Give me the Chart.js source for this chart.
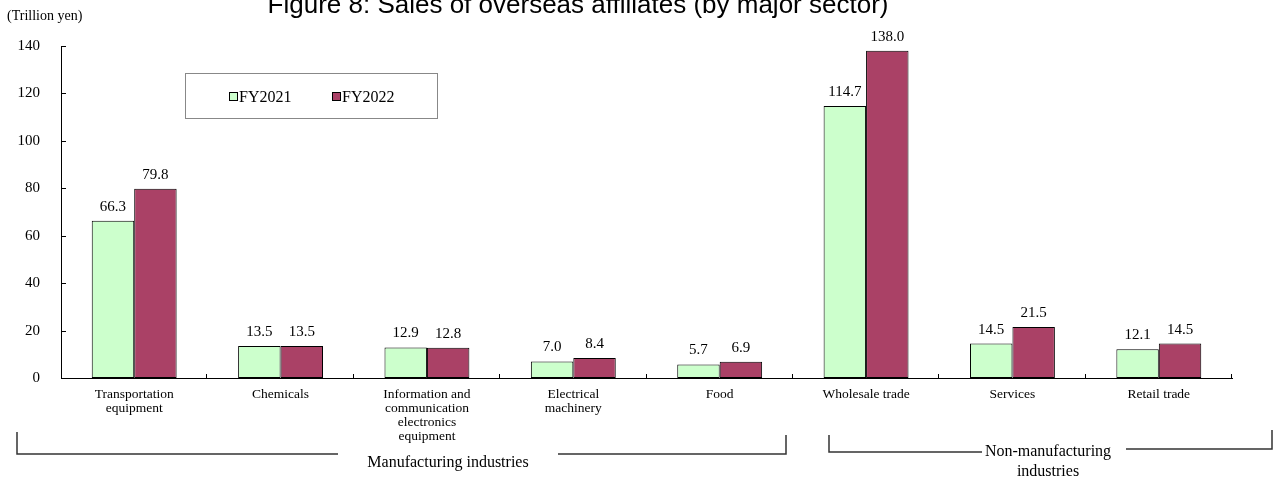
<!DOCTYPE html>
<html>
<head>
<meta charset="utf-8">
<title>Sales of overseas affiliates</title>
<script src="https://cdn.jsdelivr.net/npm/chart.js@4.4.0/dist/chart.umd.min.js"></script>
<style>
    html, body { margin: 0; padding: 0; background: #ffffff; }
    #salesChart { display: block; }
</style>
</head>
<body>
<canvas id="salesChart" width="1277" height="482"></canvas>
<script>
// 数据
const categories = [
    ['Transportation', 'equipment'],
    ['Chemicals'],
    ['Information and', 'communication', 'electronics', 'equipment'],
    ['Electrical', 'machinery'],
    ['Food'],
    ['Wholesale trade'],
    ['Services'],
    ['Retail trade']
];
const fy2021 = [66.3, 13.5, 12.9, 7.0, 5.7, 114.7, 14.5, 12.1];
const fy2022 = [79.8, 13.5, 12.8, 8.4, 6.9, 138.0, 21.5, 14.5];
const seriesNames = ['FY2021', 'FY2022'];
const yTicks = [0, 20, 40, 60, 80, 100, 120, 140];
const groupNames = [['Manufacturing industries'], ['Non-manufacturing', 'industries']];

const chartTitle = 'Figure 8: Sales of overseas affiliates (by major sector)';
const unitLabel = '(Trillion yen)';

const serif = '"Liberation Serif", "Times New Roman", serif';
const sans = '"Liberation Sans", Arial, sans-serif';
const colors = ['#ccffcc', '#aa4166'];

// 标题、图例框、数值标签和分组括号
const overlayPlugin = {
    id: 'overlay',
    afterDraw(chart) {
        const c = chart.ctx;
        const area = chart.chartArea;
        const xs = chart.scales.x;
        const ys = chart.scales.y;
        c.save();
        c.fillStyle = '#000';

        c.font = '26px ' + sans;
        c.textAlign = 'center';
        c.textBaseline = 'alphabetic';
        c.fillText(chartTitle, 578, 13);

        c.font = '14px ' + serif;
        c.textAlign = 'left';
        c.fillText(unitLabel, 7, 20);

        // 坐标轴刻度（朝内）
        c.strokeStyle = '#000';
        c.lineWidth = 1;
        c.beginPath();
        yTicks.forEach(v => {
            const py = Math.round(ys.getPixelForValue(v)) + 0.5;
            c.moveTo(area.left, py);
            c.lineTo(area.left + 5, py);
        });
        for (let i = 1; i <= categories.length; i++) {
            let px;
            if (i === categories.length) px = area.right;
            else px = (xs.getPixelForValue(i - 1) + xs.getPixelForValue(i)) / 2;
            px = Math.round(px) - 0.5;
            c.moveTo(px, area.bottom);
            c.lineTo(px, area.bottom - 4);
        }
        c.stroke();

        // 数值标签
        c.font = '15px ' + serif;
        c.textAlign = 'center';
        chart.data.datasets.forEach((ds, di) => {
            chart.getDatasetMeta(di).data.forEach((bar, i) => {
                c.fillText(ds.data[i].toFixed(1), bar.x, bar.y - 10);
            });
        });

        // 图例
        c.strokeStyle = '#888';
        c.strokeRect(185.5, 73.5, 252, 45);
        const legendX = [229, 332];
        seriesNames.forEach((name, i) => {
            c.fillStyle = colors[i];
            c.fillRect(legendX[i], 92, 8, 8);
            c.strokeStyle = '#000';
            c.strokeRect(legendX[i] + 0.5, 92.5, 8, 8);
            c.fillStyle = '#000';
            c.font = '16px ' + serif;
            c.textAlign = 'left';
            c.fillText(name, legendX[i] + 10, 102);
        });

        // 分组括号
        c.strokeStyle = '#333';
        c.lineWidth = 1.5;
        c.beginPath();
        c.moveTo(17, 432); c.lineTo(17, 454); c.lineTo(338, 454);
        c.moveTo(558, 454); c.lineTo(786, 454); c.lineTo(786, 435);
        c.moveTo(829, 435); c.lineTo(829, 452); c.lineTo(982, 452);
        c.moveTo(1126, 449); c.lineTo(1272, 449); c.lineTo(1272, 430);
        c.stroke();

        c.font = '16px ' + serif;
        c.textAlign = 'center';
        c.textBaseline = 'middle';
        c.fillText(groupNames[0][0], 448, 463);
        c.fillText(groupNames[1][0], 1048, 452);
        c.fillText(groupNames[1][1], 1048, 472);
        c.restore();
    }
};

function initSalesChart() {
    const ctx = document.getElementById('salesChart');
    if (!ctx) return;
    new Chart(ctx.getContext('2d'), {
        type: 'bar',
        data: {
            labels: categories,
            datasets: [
                {
                    label: seriesNames[0],
                    data: fy2021,
                    backgroundColor: colors[0],
                    borderColor: '#000',
                    borderWidth: 1,
                    borderSkipped: false
                },
                {
                    label: seriesNames[1],
                    data: fy2022,
                    backgroundColor: colors[1],
                    borderColor: '#000',
                    borderWidth: 1,
                    borderSkipped: false
                }
            ]
        },
        options: {
            responsive: false,
            animation: false,
            devicePixelRatio: 1,
            categoryPercentage: 0.58,
            barPercentage: 1.0,
            layout: {
                padding: { top: 46, right: 45, bottom: 0, left: 0 }
            },
            plugins: {
                legend: { display: false },
                title: { display: false },
                tooltip: { enabled: false }
            },
            scales: {
                y: {
                    min: 0,
                    max: 140,
                    ticks: {
                        stepSize: 20,
                        color: '#000',
                        padding: 21,
                        font: { family: serif, size: 15 }
                    },
                    grid: { display: false, drawTicks: false },
                    border: { color: '#000', width: 1 },
                    afterFit(scale) { scale.width = 61; }
                },
                x: {
                    ticks: {
                        color: '#000',
                        padding: 9,
                        maxRotation: 0,
                        autoSkip: false,
                        font: { family: serif, size: 13.5, lineHeight: 14 / 13.5 }
                    },
                    grid: { display: false, drawTicks: false },
                    border: { color: '#000', width: 1 },
                    afterFit(scale) { scale.height = 104; }
                }
            }
        },
        plugins: [overlayPlugin]
    });
}

initSalesChart();
</script>
</body>
</html>
